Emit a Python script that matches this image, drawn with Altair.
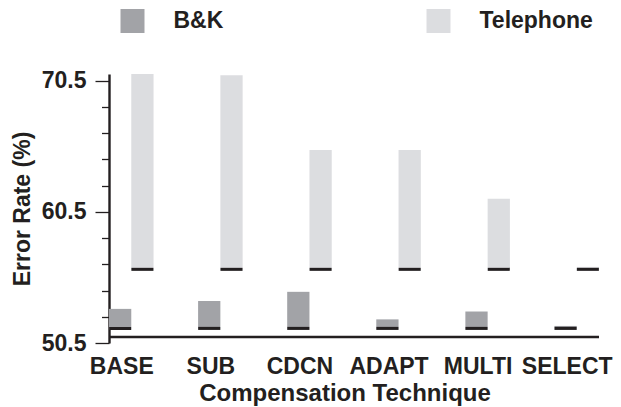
import altair as alt
import pandas as pd

categories = ["BASE", "SUB", "CDCN", "ADAPT", "MULTI", "SELECT"]
series = ["B&K", "Telephone"]
bk_low = [51.5, 51.5, 51.5, 51.5, 51.5, 51.5]
bk_high = [53.1, 53.7, 54.4, 52.3, 52.9, 51.8]
tel_low = [56.0, 56.0, 56.0, 56.0, 56.0, 56.0]
tel_high = [71.0, 70.9, 65.2, 65.2, 61.5, 56.3]
y_ticks = [50.5, 52.5, 54.5, 56.5, 58.5, 60.5, 62.5, 64.5, 66.5, 68.5, 70.5]
y_labels = [50.5, 60.5, 70.5]
axis_cross = [50.96]

rows = []
for i, c in enumerate(categories):
    rows.append({"technique": c, "series": series[0], "low": bk_low[i], "high": bk_high[i]})
    rows.append({"technique": c, "series": series[1], "low": tel_low[i], "high": tel_high[i]})
df = pd.DataFrame(rows)
df_rule = pd.DataFrame({"v": axis_cross})

INK = "#231f20"
FONT = "Liberation Sans"
label_list = ",".join(str(v) for v in y_labels)

x_axis = alt.Axis(
    title="Compensation Technique", domain=False, ticks=False, grid=False,
    labelAngle=0, labelFont=FONT, labelFontSize=23, labelFontWeight="bold",
    labelColor=INK, labelOffset=-9.5, labelPadding=30, labelBaseline="alphabetic",
    titleFont=FONT, titleFontSize=24, titleFontWeight="bold", titleColor=INK,
    titleX=235.5, titleY=57, titleBaseline="alphabetic",
)
x = alt.X("technique:N", sort=categories,
          scale=alt.Scale(paddingInner=0.5, paddingOuter=0), axis=x_axis)
xo = alt.XOffset("series:N", sort=series,
                 scale=alt.Scale(paddingInner=0, paddingOuter=0))

yscale = alt.Scale(domain=[50.5, 71.0], nice=False, zero=False)
y_axis = alt.Axis(
    values=y_ticks, title="Error Rate (%)", grid=False,
    domainColor=INK, domainWidth=2.4, tickColor=INK, tickWidth=1.3,
    tickSize={"condition": {"test": f"indexof([{label_list}], datum.value) >= 0", "value": 14}, "value": 7.5},
    labelExpr=f"indexof([{label_list}], datum.value) >= 0 ? format(datum.value, '.1f') : ''",
    labelFont=FONT, labelFontSize=23, labelFontWeight="bold", labelColor=INK,
    labelPadding=9,
    titleFont=FONT, titleFontSize=23, titleFontWeight="bold", titleColor=INK,
    titleX=-80, titleY=134.5, titleAngle=270, titleBaseline="alphabetic", titleAlign="center",
)

color = alt.Color(
    "series:N", sort=series,
    scale=alt.Scale(domain=series, range=["#a2a3a7", "#dcdde0"]),
    legend=alt.Legend(
        title=None, orient="none", legendX=11.5, legendY=-65, direction="horizontal",
        symbolType="square", symbolSize=576, symbolStrokeWidth=0, symbolOpacity=1,
        labelFont=FONT, labelFontSize=23, labelFontWeight="bold", labelColor=INK,
        labelOffset=29, columnPadding=203, padding=0,
    ),
)

bars = alt.Chart(df).mark_bar(strokeWidth=0).encode(
    x=x, xOffset=xo,
    y=alt.Y("low:Q", scale=yscale, axis=y_axis),
    y2="high:Q",
    color=color,
)

bases = alt.Chart(df).mark_tick(thickness=3, size=22, color=INK, yOffset=-1.5, orient="horizontal", opacity=1).encode(
    x=x, xOffset=xo,
    y=alt.Y("low:Q", scale=yscale, axis=y_axis),
)

rule = alt.Chart(df_rule).mark_rule(color=INK, strokeWidth=2.5).encode(
    y=alt.Y("v:Q", scale=yscale, axis=y_axis),
)

chart = alt.layer(bars, bases, rule).properties(
    width=490, height=269,
    autosize=alt.AutoSizeParams(type="none"),
    padding={"left": 101, "top": 66, "right": 14, "bottom": 63},
).configure_view(stroke=None)

chart.save("out.html", embed_options={"renderer": "svg", "actions": False})
